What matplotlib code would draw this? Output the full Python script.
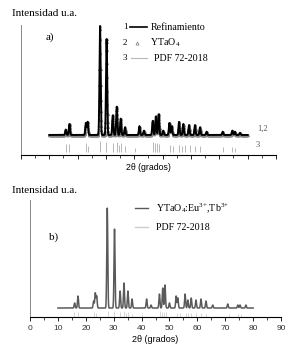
import numpy as np
import matplotlib
matplotlib.use("Agg")
import matplotlib.pyplot as plt
from matplotlib.ticker import MultipleLocator

plt.rcParams["mathtext.fontset"] = "custom"
plt.rcParams["mathtext.rm"] = "Liberation Serif"
plt.rcParams["mathtext.it"] = "Liberation Serif:italic"
plt.rcParams["mathtext.default"] = "regular"

# ---------------- data ----------------
# Panel a: refined YTaO4 pattern (peak positions in 2theta, relative intensity %)
peaks_a_pos = [15.8, 17.1, 22.9, 23.5, 27.9, 30.2, 32.4, 33.8, 35.2, 36.7, 41.8, 43.4,
               46.5, 47.6, 48.6, 50.2, 52.4, 53.2, 55.8, 57.3, 59.3, 61.4, 63.2, 65.5,
               71.2, 74.6, 75.5, 77.3]
peaks_a_int = [5, 10, 11, 12, 100, 88, 18, 26, 15, 7, 8, 4,
               13, 17, 19, 4, 11, 8, 12, 10, 9, 9, 7, 3,
               3, 4, 3, 2]

# Panel a: PDF 72-2018 reference lines (position, relative height)
pdf_a_pos = [15.8, 17.1, 22.9, 23.5, 27.9, 30.0, 32.4, 33.8, 34.5, 35.2, 36.7, 40.2,
             46.5, 47.3, 47.9, 48.8, 52.6, 53.8, 55.8, 56.7, 57.9, 59.6, 61.4, 63.2,
             71.2, 74.6, 75.5]
pdf_a_int = [75, 75, 80, 60, 100, 95, 85, 90, 70, 80, 55, 40,
             90, 85, 80, 75, 65, 60, 70, 60, 65, 70, 60, 55,
             45, 50, 40]

# Panel b: YTaO4:Eu3+,Tb3+ pattern
peaks_b_pos = [16.0, 17.2, 22.8, 23.4, 23.9, 27.7, 30.3, 32.3, 33.7, 35.1, 36.6, 41.8,
               43.4, 46.4, 47.6, 48.4, 50.0, 52.4, 53.0, 55.6, 56.6, 57.8, 59.5, 61.3,
               63.1, 65.5, 70.9, 74.5, 75.3, 77.4]
peaks_b_int = [5, 12, 7, 15, 12, 100, 79, 17, 25, 17, 9, 9,
               3, 14, 20, 23, 5, 12, 10, 14, 8, 10, 8, 9,
               7, 3, 4, 3, 3, 3]

# Panel b: PDF 72-2018 reference lines
pdf_b_pos = pdf_a_pos
pdf_b_int = pdf_a_int

x_range = (10, 80)
xticks_major = 10
xticks_minor = 5


def profile(x, pos, inten, w=0.2):
    y = np.zeros_like(x)
    for p, h in zip(pos, inten):
        y += h / 100.0 * np.exp(-0.5 * ((x - p) / w) ** 2)
    return y


serif = "Liberation Serif"
sans = "Liberation Sans"

fig = plt.figure(figsize=(2.98, 3.58), dpi=100)

# ---------------- panel a ----------------
axa = fig.add_axes([0.0705, 0.567, 0.8555, 0.363])
x = np.arange(x_range[0], x_range[1] + 1e-9, 0.02)
ya = profile(x, peaks_a_pos, peaks_a_int, 0.2)
xe = np.arange(x_range[0], x_range[1] + 1e-9, 0.05)
ye = profile(xe, peaks_a_pos, peaks_a_int, 0.2)
axa.plot(xe, ye, linestyle="none", marker="^", ms=1.8, mfc="none",
         mec="#8a8a8a", mew=0.5)
axa.plot(x, ya, color="black", lw=1.4)
pdf_top = np.array(pdf_a_int) / 100.0 * 0.10
axa.vlines(pdf_a_pos, -0.158, -0.158 + pdf_top, color="#b8b8b8", lw=0.7)
axa.set_xlim(0, 90)
axa.set_ylim(-0.184, 1.009)
for s in ["top", "right"]:
    axa.spines[s].set_visible(False)
axa.spines["left"].set_color("#888888")
axa.spines["left"].set_linewidth(0.7)
axa.spines["bottom"].set_linewidth(0.8)
axa.set_yticks([])
axa.xaxis.set_major_locator(MultipleLocator(xticks_major))
axa.xaxis.set_minor_locator(MultipleLocator(xticks_minor))
axa.tick_params(axis="x", which="major", length=3, width=0.6, labelbottom=False)
axa.tick_params(axis="x", which="minor", length=2, width=0.5)
axa.set_xlabel("2θ (grados)", fontsize=6.3, family=sans, labelpad=0.5)

fig.text(0.04, 0.962, "Intensidad u.a.", fontsize=8, family=serif, va="center")
axa.text(0.095, 0.905, "a)", transform=axa.transAxes, fontsize=8, family=serif,
         va="center")
# legend a
tr = axa.transAxes
axa.text(0.40, 0.985, "1", transform=tr, fontsize=6.5, family=serif, va="center")
axa.plot([0.428, 0.495], [0.985, 0.985], transform=tr, color="black", lw=1.2)
axa.text(0.51, 0.985, "Refinamiento", transform=tr, fontsize=7.2, family=serif,
         va="center")
axa.text(0.40, 0.862, "2", transform=tr, fontsize=6.5, family=serif, va="center")
axa.plot([0.455], [0.862], transform=tr, linestyle="none", marker="^", ms=2.2,
         mfc="none", mec="#777777", mew=0.5)
axa.text(0.505, 0.862, "YTaO$_4$", transform=tr, fontsize=7.2, family=serif,
         va="center")
axa.text(0.40, 0.745, "3", transform=tr, fontsize=6.5, family=serif, va="center")
axa.plot([0.43, 0.495], [0.745, 0.745], transform=tr, color="#b8b8b8", lw=0.8)
axa.text(0.52, 0.745, "PDF 72-2018", transform=tr, fontsize=7.2, family=serif,
         va="center")
axa.text(0.925, 0.205, "1,2", transform=tr, fontsize=6, family=serif, va="center",
         color="#555555")
axa.text(0.92, 0.075, "3", transform=tr, fontsize=6, family=serif, va="center",
         color="#555555")

# ---------------- panel b ----------------
axb = fig.add_axes([0.1007, 0.1145, 0.8423, 0.3265])
yb = profile(x, peaks_b_pos, peaks_b_int, 0.18)
pdfb_top = np.array(pdf_b_int) / 100.0 * 0.06
axb.vlines(pdf_b_pos, -0.088, -0.088 + pdfb_top, color="#d4d4d4", lw=0.7)
axb.plot(x, yb, color="#5a5a5a", lw=1.1)
axb.set_xlim(0, 90)
axb.set_ylim(-0.090, 1.08)
for s in ["top", "right"]:
    axb.spines[s].set_visible(False)
axb.spines["left"].set_color("#888888")
axb.spines["left"].set_linewidth(0.7)
axb.spines["bottom"].set_linewidth(0.8)
axb.set_yticks([])
axb.xaxis.set_major_locator(MultipleLocator(xticks_major))
axb.xaxis.set_minor_locator(MultipleLocator(xticks_minor))
axb.tick_params(axis="x", which="major", length=3, width=0.6, labelsize=6, pad=3,
                labelcolor="#333333")
axb.tick_params(axis="x", which="minor", length=2, width=0.5)
for lab in axb.get_xticklabels():
    lab.set_family(sans)
axb.set_xlabel("2θ (grados)", fontsize=6.5, family=sans, labelpad=2)

fig.text(0.04, 0.469, "Intensidad u.a.", fontsize=8, family=serif, va="center")
trb = axb.transAxes
axb.text(0.075, 0.68, "b)", transform=trb, fontsize=8, family=serif, va="center")
axb.plot([0.42, 0.47], [0.93, 0.93], transform=trb, color="#5a5a5a", lw=1.0)
axb.text(0.50, 0.93, "YTaO$_4$:Eu$^{3{+}}$,Tb$^{3{+}}$", transform=trb, fontsize=7.2,
         family=serif, va="center")
axb.plot([0.42, 0.47], [0.77, 0.77], transform=trb, color="#cccccc", lw=1.0)
axb.text(0.50, 0.77, "PDF 72-2018", transform=trb, fontsize=7.2, family=serif,
         va="center")

fig.savefig("out.png", dpi=100)
